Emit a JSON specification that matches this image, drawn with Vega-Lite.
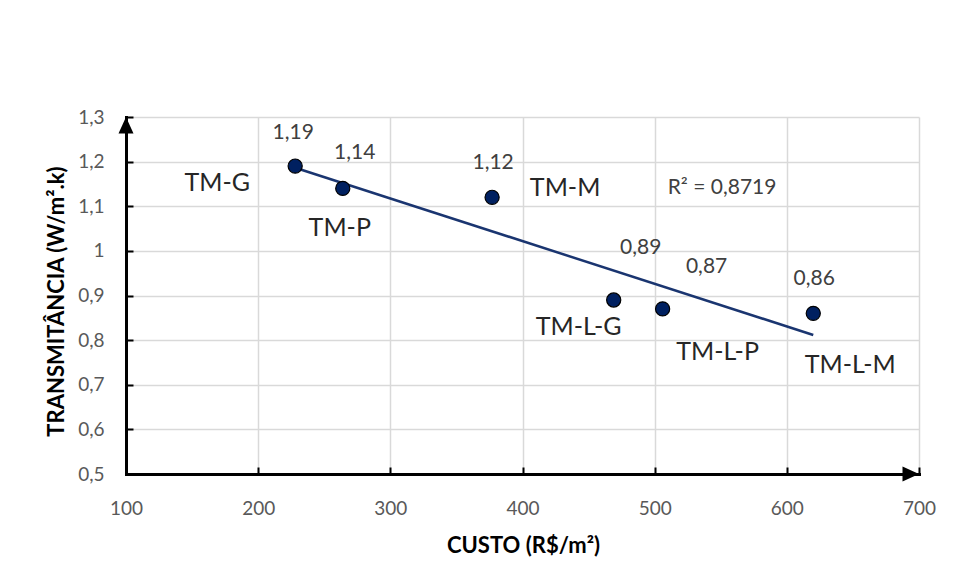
{
  "$schema": "https://vega.github.io/schema/vega-lite/v6.json",
  "width": 793,
  "height": 357,
  "autosize": "none",
  "padding": {"left": 126, "top": 117, "right": 35, "bottom": 107},
  "background": "white",
  "config": {
    "locale": {"number": {"decimal": ",", "thousands": ".", "grouping": [3], "currency": ["R$", ""]}},
    "view": {"stroke": null},
    "font": "Lato"
  },
  "resolve": {"axis": {"x": "independent", "y": "independent"}},
  "data": {
    "values": [
      {"sistema": "TM-G", "custo": 228, "transmitancia": 1.19},
      {"sistema": "TM-P", "custo": 264, "transmitancia": 1.14},
      {"sistema": "TM-M", "custo": 377, "transmitancia": 1.12},
      {"sistema": "TM-L-G", "custo": 469, "transmitancia": 0.89},
      {"sistema": "TM-L-P", "custo": 506, "transmitancia": 0.87},
      {"sistema": "TM-L-M", "custo": 620, "transmitancia": 0.86}
    ]
  },
  "layer": [
    {
      "transform": [{"regression": "transmitancia", "on": "custo", "method": "linear"}],
      "mark": {"type": "line", "color": "#1a3570", "strokeWidth": 2.5},
      "encoding": {
        "x": {
          "field": "custo", "type": "quantitative",
          "scale": {"domain": [100, 700], "nice": false, "zero": false},
          "axis": {
            "orient": "bottom", "title": null, "values": [100, 200, 300, 400, 500, 600, 700],
            "grid": true, "gridColor": "#d9d9d9", "gridWidth": 1.5,
            "domain": false, "ticks": false, "labels": false, "zindex": 0
          }
        },
        "y": {
          "field": "transmitancia", "type": "quantitative",
          "scale": {"domain": [0.5, 1.3], "nice": false, "zero": false},
          "axis": {
            "orient": "left", "title": null, "values": [0.5, 0.6, 0.7, 0.8, 0.9, 1.0, 1.1, 1.2, 1.3],
            "grid": true, "gridColor": "#d9d9d9", "gridWidth": 1.5,
            "domain": false, "ticks": false, "labels": false, "zindex": 0
          }
        }
      }
    },
    {
      "mark": {"type": "point", "shape": "circle", "filled": true, "size": 200, "fill": "#002060", "stroke": "#000000", "strokeWidth": 1.2, "opacity": 1},
      "encoding": {
        "x": {
          "field": "custo", "type": "quantitative",
          "axis": {
            "orient": "bottom",
            "title": "CUSTO (R$/m²)",
            "values": [100, 200, 300, 400, 500, 600, 700],
            "format": "d",
            "grid": false, "zindex": 1,
            "domainColor": "black", "domainWidth": 3, "domainCap": "square",
            "tickColor": "black", "tickWidth": 2, "tickSize": -7,
            "labelFont": "Lato", "labelFontSize": 19, "labelColor": "#595959",
            "labelPadding": 32, "labelFlush": false, "labelOverlap": false,
            "titleFont": "Lato", "titleFontSize": 22, "titleFontWeight": "bold", "titleColor": "black",
            "titleX": 397, "titleY": 78, "titleAlign": "center", "titleBaseline": "alphabetic"
          }
        },
        "y": {
          "field": "transmitancia", "type": "quantitative",
          "axis": {
            "orient": "left",
            "title": "TRANSMITÂNCIA (W/m².k)",
            "values": [0.5, 0.6, 0.7, 0.8, 0.9, 1.0, 1.1, 1.2, 1.3],
            "format": ".1~f",
            "grid": false, "zindex": 1,
            "domainColor": "black", "domainWidth": 3, "domainCap": "square",
            "tickColor": "black", "tickWidth": 2, "tickSize": -7,
            "labelFont": "Lato", "labelFontSize": 19, "labelColor": "#595959",
            "labelPadding": 29, "labelFlush": false, "labelOverlap": false,
            "titleFont": "Lato", "titleFontSize": 22, "titleFontWeight": "bold", "titleColor": "black",
            "titleX": -63, "titleY": 184, "titleAngle": 270, "titleAlign": "center", "titleBaseline": "alphabetic"
          }
        }
      }
    },
    {
      "transform": [{"filter": "datum.sistema === 'TM-G'"}],
      "layer": [
        {"mark": {"type": "text", "dx": -2, "dy": -33, "fontSize": 21, "color": "#404040", "align": "center", "baseline": "middle"},
         "encoding": {"text": {"field": "transmitancia", "type": "quantitative", "format": ".2f"}}},
        {"mark": {"type": "text", "dx": -78, "dy": 17, "fontSize": 25, "color": "#262626", "align": "center", "baseline": "middle"},
         "encoding": {"text": {"field": "sistema", "type": "nominal"}}}
      ],
      "encoding": {
        "x": {"field": "custo", "type": "quantitative", "axis": null},
        "y": {"field": "transmitancia", "type": "quantitative", "axis": null}
      }
    },
    {
      "transform": [{"filter": "datum.sistema === 'TM-P'"}],
      "layer": [
        {"mark": {"type": "text", "dx": 12, "dy": -35, "fontSize": 21, "color": "#404040", "align": "center", "baseline": "middle"},
         "encoding": {"text": {"field": "transmitancia", "type": "quantitative", "format": ".2f"}}},
        {"mark": {"type": "text", "dx": -3, "dy": 40, "fontSize": 25, "color": "#262626", "align": "center", "baseline": "middle"},
         "encoding": {"text": {"field": "sistema", "type": "nominal"}}}
      ],
      "encoding": {
        "x": {"field": "custo", "type": "quantitative", "axis": null},
        "y": {"field": "transmitancia", "type": "quantitative", "axis": null}
      }
    },
    {
      "transform": [{"filter": "datum.sistema === 'TM-M'"}],
      "layer": [
        {"mark": {"type": "text", "dx": 1, "dy": -34, "fontSize": 21, "color": "#404040", "align": "center", "baseline": "middle"},
         "encoding": {"text": {"field": "transmitancia", "type": "quantitative", "format": ".2f"}}},
        {"mark": {"type": "text", "dx": 73, "dy": -9, "fontSize": 25, "color": "#262626", "align": "center", "baseline": "middle"},
         "encoding": {"text": {"field": "sistema", "type": "nominal"}}},
        {"mark": {"type": "text", "dx": 230, "dy": -9, "fontSize": 21, "color": "#404040", "align": "center", "baseline": "middle"},
         "encoding": {"text": {"value": "R² = 0,8719"}}}
      ],
      "encoding": {
        "x": {"field": "custo", "type": "quantitative", "axis": null},
        "y": {"field": "transmitancia", "type": "quantitative", "axis": null}
      }
    },
    {
      "transform": [{"filter": "datum.sistema === 'TM-L-G'"}],
      "layer": [
        {"mark": {"type": "text", "dx": 27, "dy": -52, "fontSize": 21, "color": "#404040", "align": "center", "baseline": "middle"},
         "encoding": {"text": {"field": "transmitancia", "type": "quantitative", "format": ".2f"}}},
        {"mark": {"type": "text", "dx": -35, "dy": 27, "fontSize": 25, "color": "#262626", "align": "center", "baseline": "middle"},
         "encoding": {"text": {"field": "sistema", "type": "nominal"}}}
      ],
      "encoding": {
        "x": {"field": "custo", "type": "quantitative", "axis": null},
        "y": {"field": "transmitancia", "type": "quantitative", "axis": null}
      }
    },
    {
      "transform": [{"filter": "datum.sistema === 'TM-L-P'"}],
      "layer": [
        {"mark": {"type": "text", "dx": 44, "dy": -42, "fontSize": 21, "color": "#404040", "align": "center", "baseline": "middle"},
         "encoding": {"text": {"field": "transmitancia", "type": "quantitative", "format": ".2f"}}},
        {"mark": {"type": "text", "dx": 55, "dy": 43, "fontSize": 25, "color": "#262626", "align": "center", "baseline": "middle"},
         "encoding": {"text": {"field": "sistema", "type": "nominal"}}}
      ],
      "encoding": {
        "x": {"field": "custo", "type": "quantitative", "axis": null},
        "y": {"field": "transmitancia", "type": "quantitative", "axis": null}
      }
    },
    {
      "transform": [{"filter": "datum.sistema === 'TM-L-M'"}],
      "layer": [
        {"mark": {"type": "text", "dx": 1, "dy": -34, "fontSize": 21, "color": "#404040", "align": "center", "baseline": "middle"},
         "encoding": {"text": {"field": "transmitancia", "type": "quantitative", "format": ".2f"}}},
        {"mark": {"type": "text", "dx": 37, "dy": 52, "fontSize": 25, "color": "#262626", "align": "center", "baseline": "middle"},
         "encoding": {"text": {"field": "sistema", "type": "nominal"}}}
      ],
      "encoding": {
        "x": {"field": "custo", "type": "quantitative", "axis": null},
        "y": {"field": "transmitancia", "type": "quantitative", "axis": null}
      }
    },
    {
      "data": {"values": [{"eixo": "y"}]},
      "mark": {"type": "point", "shape": "M0,0 L0.5,1.1 L-0.5,1.1 Z", "filled": true, "size": 900, "color": "black", "opacity": 1},
      "encoding": {
        "x": {"datum": 100, "type": "quantitative", "axis": null},
        "y": {"datum": 1.3, "type": "quantitative", "axis": null}
      }
    },
    {
      "data": {"values": [{"eixo": "x"}]},
      "mark": {"type": "point", "shape": "M0,0 L-1.1,-0.5 L-1.1,0.5 Z", "filled": true, "size": 900, "color": "black", "opacity": 1},
      "encoding": {
        "x": {"datum": 700, "type": "quantitative", "axis": null},
        "y": {"datum": 0.5, "type": "quantitative", "axis": null}
      }
    }
  ]
}
